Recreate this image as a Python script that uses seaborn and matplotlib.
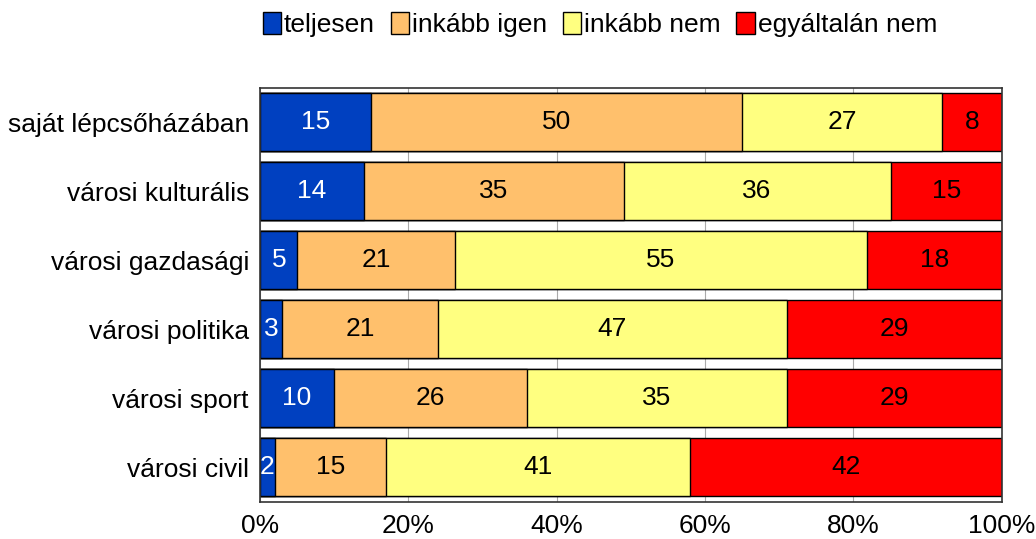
import numpy as np
import pandas as pd
import matplotlib
matplotlib.use("Agg")
import matplotlib.pyplot as plt
import seaborn as sns
from matplotlib.patches import Patch

# data
categories = ["saját lépcsőházában", "városi kulturális", "városi gazdasági",
              "városi politika", "városi sport", "városi civil"]
series_names = ["teljesen", "inkább igen", "inkább nem", "egyáltalán nem"]
teljesen = [15, 14, 5, 3, 10, 2]
inkabb_igen = [50, 35, 21, 21, 26, 15]
inkabb_nem = [27, 36, 55, 47, 35, 41]
egyaltalan_nem = [8, 15, 18, 29, 29, 42]
colors = ["#0040C0", "#FFC06C", "#FFFF80", "#FF0000"]
text_colors = ["white", "black", "black", "black"]

sns.set_theme(style="white")
plt.rcParams["font.family"] = ["Liberation Sans", "DejaVu Sans"]
plt.rcParams["text.color"] = "black"
plt.rcParams["xtick.labelcolor"] = "black"
plt.rcParams["ytick.labelcolor"] = "black"
FS = 19

df = pd.DataFrame({"cat": categories, "teljesen": teljesen, "inkább igen": inkabb_igen,
                   "inkább nem": inkabb_nem, "egyáltalán nem": egyaltalan_nem})
vals = df[series_names].to_numpy(dtype=float)
share = vals / vals.sum(axis=1, keepdims=True) * 100  # 100% stacked
cum = np.cumsum(share, axis=1)

fig = plt.figure(figsize=(10.36, 5.39), dpi=100)
ax = fig.add_axes([0.251, 0.069, 0.716, 0.768])

# draw from the longest cumulative bar to the shortest so each covers the previous
for i in range(3, -1, -1):
    sns.barplot(x=cum[:, i], y=categories, color=colors[i], orient="h", width=0.84,
                edgecolor="black", linewidth=1.0, saturation=1, ax=ax, zorder=2)

# value labels
for r in range(len(categories)):
    for i in range(4):
        mid = cum[r, i] - share[r, i] / 2
        ax.text(mid, r, str(int(vals[r, i])), ha="center", va="center",
                fontsize=FS, color=text_colors[i], zorder=5)

ax.set_xlim(0, 100)
ax.set_ylim(5.5, -0.5)
ax.set_xticks([0, 20, 40, 60, 80, 100])
ax.set_xticklabels(["0%", "20%", "40%", "60%", "80%", "100%"], fontsize=FS)
ax.tick_params(axis="x", direction="in", length=5, color="#555555", pad=9)
ax.tick_params(axis="y", length=0, labelsize=FS, pad=8)
ax.xaxis.grid(True, color="#AAAAAA", linewidth=0.8, zorder=0)
ax.set_axisbelow(True)
ax.set_xlabel("")
ax.set_ylabel("")
for s in ax.spines.values():
    s.set_color("#333333")
    s.set_linewidth(1.2)

handles = [Patch(facecolor=c, edgecolor="black", label=n) for c, n in zip(colors, series_names)]
fig.legend(handles=handles, loc="upper center", bbox_to_anchor=(0.579, 1.022), ncol=4,
           frameon=False, fontsize=FS, handlelength=0.7, handleheight=0.9,
           handletextpad=0.1, columnspacing=0.6)

fig.savefig("out.png", dpi=100)
